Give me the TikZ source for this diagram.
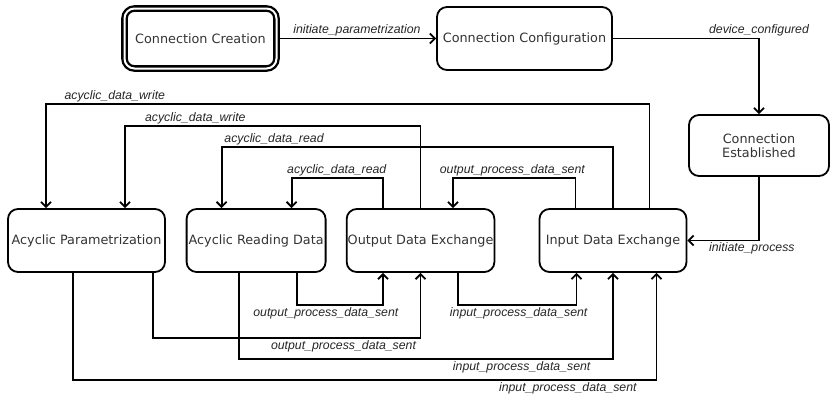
\documentclass[tikz,border=0pt]{standalone}
\usepackage{fontspec}
\setmainfont{DejaVu Sans}
\newfontfamily\labfont{Liberation Sans}
\usetikzlibrary{arrows.meta, positioning}

\begin{document}
\begin{tikzpicture}[
        x=1pt, y=-1pt,
        font=\fontsize{12.8}{14.5}\selectfont,
        >={Straight Barb[length=5pt, width=10pt]},
        % Styles
        state/.style={
            draw=black, line width=1.8pt, rounded corners=10pt, align=center,
            minimum height=63pt, inner sep=1pt, text=black!80
        },
        startstate/.style={
            state, double, line width=2.3pt, double distance=2pt,
            minimum width=152pt, minimum height=60pt
        },
        trans/.style={->, line width=1.8pt},
        lab/.style={font=\labfont\itshape\fontsize{12.3}{14}\selectfont, text=black!85, inner sep=1.5pt}
    ]

    \useasboundingbox (0,0) rectangle (831,400);

    % --- Nodes ---

    % top row
    \node[startstate] (cc) at (200.5,38.5) {Connection Creation};
    \node[state, minimum width=175pt] (cfg) at (524.5,38.5) {Connection Configuration};
    \node[state, minimum width=140pt, minimum height=61pt] (est) at (759,145.5) {Connection\\Established};

    % bottom row
    \node[state, minimum width=157pt] (acp) at (86.5,240.5) {Acyclic Parametrization};
    \node[state, minimum width=139pt, right=19.8pt of acp] (ard) {Acyclic Reading Data};
    \node[state, minimum width=147pt, right=19.3pt of ard] (ode) {Output Data Exchange};
    \node[state, minimum width=147pt, right=43.3pt of ode] (ide) {Input Data Exchange};

    % --- Arrows ---
    \draw[trans] (cc) -- node[lab, above] {initiate\_parametrization} (cfg);
    \draw[trans] (cfg.east) -| node[lab, above] {device\_configured} (est.north);
    \draw[trans] (est.south) |- node[lab, below, pos=0.55] {initiate\_process} (ide.east);

    % loops over the top
    \draw[trans] ([xshift=36.5pt]ide.north) -- ++(0,-104) -| node[lab, above, pos=0.443] {acyclic\_data\_write} ([xshift=-40.5pt]acp.north);
    \draw[trans] (ode.north) -- ++(0,-82) -| node[lab, above, pos=0.381] {acyclic\_data\_write} ([xshift=38.5pt]acp.north);
    \draw[trans] (ide.north) -- ++(0,-61) -| node[lab, above, pos=0.433] {acyclic\_data\_read} ([xshift=-34.5pt]ard.north);
    \draw[trans] ([xshift=-37.5pt]ode.north) -- ++(0,-30) -| node[lab, above, pos=0.253] {acyclic\_data\_read} ([xshift=35.5pt]ard.north);
    \draw[trans] ([xshift=-37.5pt]ide.north) -- ++(0,-30) -| node[lab, above, pos=0.258] {output\_process\_data\_sent} ([xshift=32.5pt]ode.north);

    % loops underneath
    \draw[trans] ([xshift=40.5pt]ard.south) -- ++(0,32) -| node[lab, below, pos=0.169] {output\_process\_data\_sent} ([xshift=-37.5pt]ode.south);
    \draw[trans] ([xshift=66.5pt]acp.south) -- ++(0,65) -| node[lab, below, pos=0.356] {output\_process\_data\_sent} (ode.south);
    \draw[trans] ([xshift=-17.5pt]ard.south) -- ++(0,86) -| node[lab, below, pos=0.378] {input\_process\_data\_sent} (ide.south);
    \draw[trans] ([xshift=-13.5pt]acp.south) -- ++(0,107) -| node[lab, below, pos=0.424] {input\_process\_data\_sent} ([xshift=43.5pt]ide.south);
    \draw[trans] ([xshift=37.5pt]ode.south) -- ++(0,32) -| node[lab, below, pos=0.256] {input\_process\_data\_sent} ([xshift=-36.5pt]ide.south);

\end{tikzpicture}
\end{document}
